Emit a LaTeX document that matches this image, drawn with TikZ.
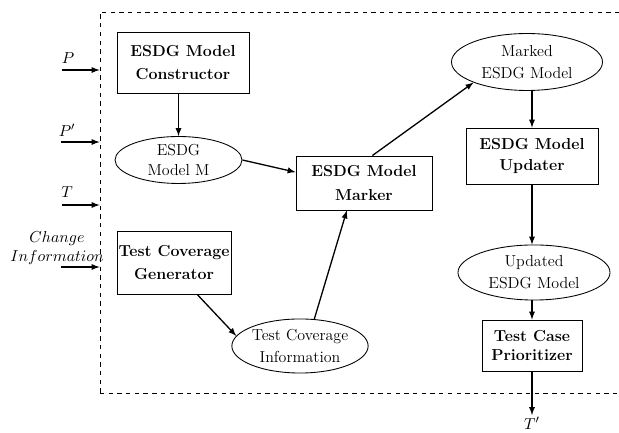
\documentclass[tikz,border=0pt]{standalone}
\usetikzlibrary{positioning,arrows,shapes.geometric}
\tikzset{blk/.style n args={2}{
    draw, semithick, rectangle, font=\fontsize{11}{13.6}\selectfont\bfseries, align=center,
    inner sep=0pt, minimum width=#1, minimum height=#2},
  dat/.style n args={2}{
    draw, semithick, ellipse, font=\fontsize{11}{13.6}\selectfont, align=center,
    inner sep=0pt, minimum width=#1, minimum height=#2},
  lbl/.style={font=\fontsize{11}{13.6}\selectfont, inner sep=1pt},
  flow/.style={->, line width=0.9pt}
}

\begin{document}
\begin{tikzpicture}[>=latex, x=0.69pt, y=-0.69pt]
		\useasboundingbox (0,0) rectangle (619,433);
		\node[draw,dashed,semithick,inner sep=0pt,minimum width=365.7pt,minimum height=262.9pt] (sys) at (365,202.5) {};

		\node[blk={91pt}{42pt}] (cons) at (183,63) {ESDG Model\\[2.3pt]Constructor};
		\node[dat={87.6pt}{32.4pt}] (mdl) at (178.5,160) {ESDG\\Model M};
		\node[blk={93.8pt}{37.3pt}] (mark) at (364,183) {ESDG Model\\[2.3pt]Marker};
		\node[dat={104.2pt}{39.3pt}] (mkd) at (527,62) {Marked\\[1.6pt]ESDG Model};
		\node[blk={91pt}{38.6pt}] (upd) at (532,156) {ESDG Model\\[1pt]Updater};
		\node[dat={104.9pt}{38pt}] (upm) at (534,272.5) {Updated\\[1.6pt]ESDG Model};
		\node[blk={69pt}{35.2pt}] (prio) at (532,345.5) {Test Case\\Prioritizer};
		\node[blk={78.7pt}{43.5pt}] (gen) at (174,262.5) {Test Coverage\\[2.3pt]Generator};
		\node[dat={89.7pt}{37.3pt}] (cov) at (300,346) {Test Coverage\\[1pt]Information};

		\coordinate (inP) at (62,70);
		\coordinate (inPp) at (61,142);
		\coordinate (inT) at (62,205);
		\coordinate (inC) at (61,267);
		\coordinate (outT) at (532,415);
		\node[lbl] (lP) at (68,58) {$P$};
		\node[lbl] (lPp) at (67,130) {$P'$};
		\node[lbl] (lT) at (67,192) {$T$};
		\node[lbl,align=center] (lC) at (57,248) {$Change$\\$Information$};
		\node[lbl] (lTp) at (532,423) {$T'$};

		\draw [flow] (inP) -- (inP -| sys.west);
		\draw [flow] (inPp) -- (inPp -| sys.west);
		\draw [flow] (inT) -- (inT -| sys.west);
		\draw [flow] (inC) -- (inC -| sys.west);
		\draw [flow] (cons.south -| mdl.north) -- (mdl.north);
		\draw [flow] (mdl.east) -- (mark.171);
		\draw [flow] (mark.73) -- (mkd.201);
		\draw [flow] (upd.north |- mkd.south) -- (upd.north);
		\draw [flow] (upd.south) -- (upd.south |- upm.north);
		\draw [flow] (upm.south -| prio.north) -- (prio.north);
		\draw [flow] (gen.-54) -- (cov.171);
		\draw [flow] (cov.62) -- (mark.238);
		\draw [flow] (prio.south) -- (outT);
	\end{tikzpicture}
\end{document}
